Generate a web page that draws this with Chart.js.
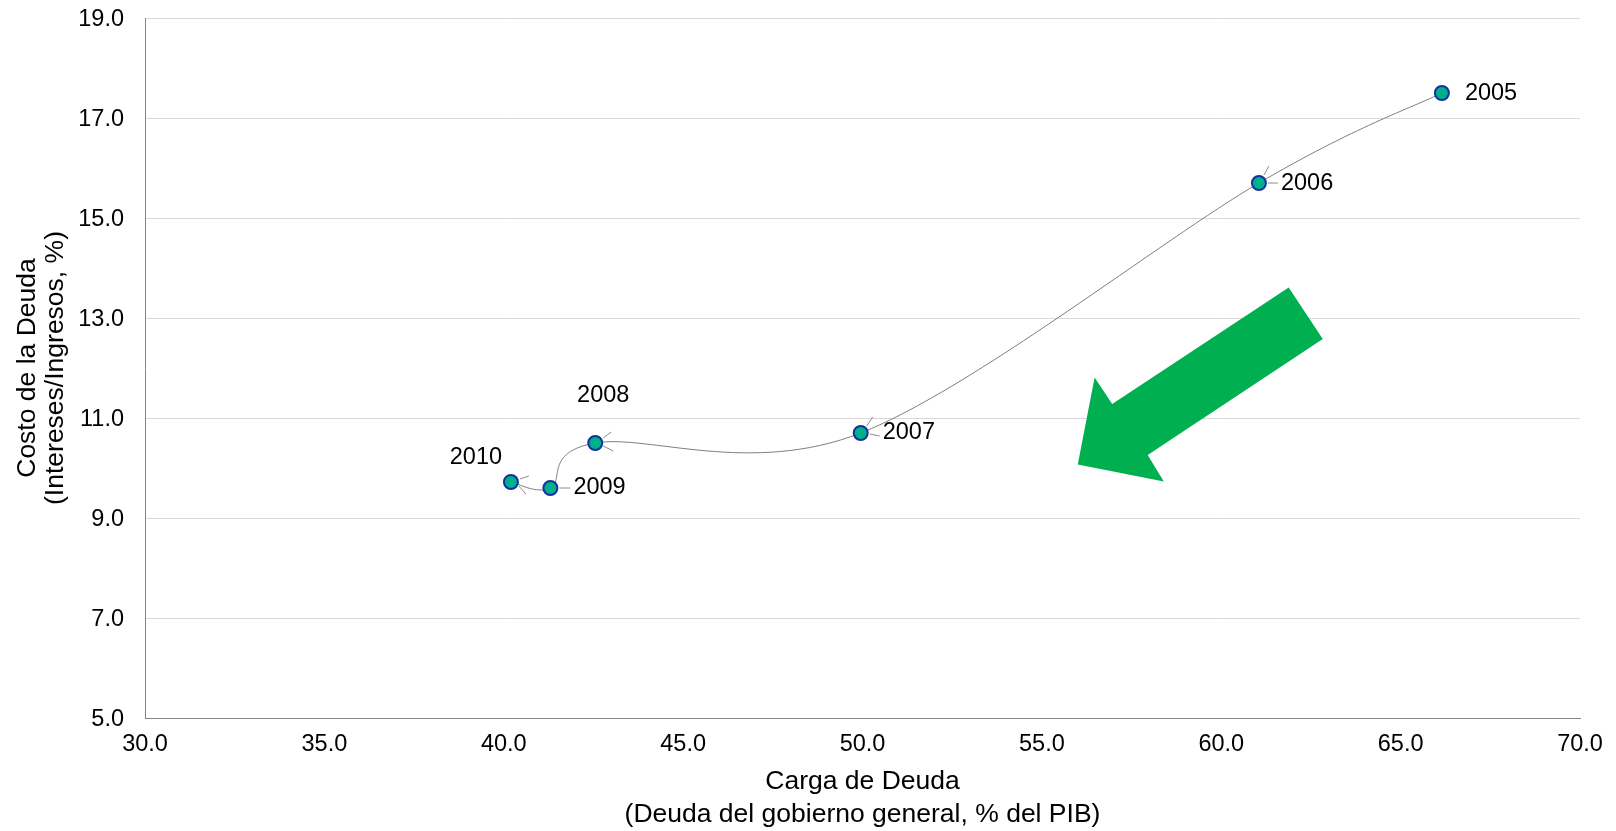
<!DOCTYPE html>
<html lang="es">
<head>
<meta charset="utf-8">
<title>Carga y costo de la deuda</title>
<script src="https://cdn.jsdelivr.net/npm/chart.js@4.4.1/dist/chart.umd.min.js"></script>
<style>
  html, body { margin: 0; padding: 0; background: #ffffff; }
  #wrap { width: 1616px; height: 831px; }
</style>
</head>
<body>
<div id="wrap"><canvas id="debtChart" width="1616" height="831"></canvas></div>
<script>
// años y valores (carga = deuda/PIB, costo = intereses/ingresos)
const years = ["2005", "2006", "2007", "2008", "2009", "2010"];
const debtLoad = [66.15, 61.05, 49.95, 42.55, 41.3, 40.2];
const debtCost = [17.5, 15.7, 10.7, 10.5, 9.6, 9.72];

const xTickValues = [30, 35, 40, 45, 50, 55, 60, 65, 70];
const yTickValues = [5, 7, 9, 11, 13, 15, 17, 19];

const xTitle = ["Carga de Deuda", "(Deuda del gobierno general, % del PIB)"];
const yTitle = ["Costo de la Deuda", "(Intereses/Ingresos, %)"];

// flecha verde (en unidades de los ejes)
const arrowShape = [
  [61.88, 13.61],
  [62.83, 12.58],
  [57.95, 10.26],
  [58.4, 9.73],
  [56.0, 10.07],
  [56.47, 11.81],
  [56.96, 11.28],
];

const FONT = 'Arial, "Liberation Sans", sans-serif';
const GREEN = "#00b050";

// where each year label sits relative to its marker, plus the little leader strokes
const labelLayout = {
  2005: { dx: 23, dy: 1, align: "left", leaders: [] },
  2006: { dx: 22, dy: 1, align: "left", leaders: [[9, 0, 19, 0], [5, -8, 10, -17]] },
  2007: { dx: 22, dy: 0, align: "left", leaders: [[9, 1, 19, 3], [6, -7, 12, -16]] },
  2008: { dx: 8, dy: -47, align: "center", leaders: [[8, -5, 16, -11], [8, 3, 18, 8]] },
  2009: { dx: 23, dy: 0, align: "left", leaders: [[9, 0, 20, 0]] },
  2010: { dx: -35, dy: -24, align: "center", leaders: [[9, -3, 18, -6], [8, 4, 15, 12]] },
};

// spreadsheet-style smoothing: each handle is 1/6 of the neighbour-to-neighbour vector
const smoothLine = {
  id: "smoothLine",
  beforeDatasetsDraw(chart) {
    const meta = chart.getDatasetMeta(0);
    const line = meta.dataset;
    const pts = meta.data;
    if (!line || pts.length < 2) return;
    line.updateControlPoints(chart.chartArea, meta.iScale.axis);
    const n = pts.length;
    for (let i = 0; i < n; i++) {
      const prev = pts[Math.max(i - 1, 0)];
      const next = pts[Math.min(i + 1, n - 1)];
      const cur = pts[i];
      const dx = (next.x - prev.x) / 6;
      const dy = (next.y - prev.y) / 6;
      cur.cp1x = cur.x - dx;
      cur.cp1y = cur.y - dy;
      cur.cp2x = cur.x + dx;
      cur.cp2y = cur.y + dy;
    }
    line._path = undefined;
  },
};

const arrowPlugin = {
  id: "arrowPlugin",
  beforeDatasetsDraw(chart) {
    const { ctx, scales } = chart;
    ctx.save();
    ctx.beginPath();
    arrowShape.forEach(([x, y], i) => {
      const px = scales.x.getPixelForValue(x);
      const py = scales.y.getPixelForValue(y);
      if (i === 0) ctx.moveTo(px, py);
      else ctx.lineTo(px, py);
    });
    ctx.closePath();
    ctx.fillStyle = GREEN;
    ctx.fill();
    ctx.restore();
  },
};

const yearLabels = {
  id: "yearLabels",
  afterDatasetsDraw(chart) {
    const ctx = chart.ctx;
    const meta = chart.getDatasetMeta(0);
    ctx.save();
    meta.data.forEach((pt, i) => {
      const lay = labelLayout[years[i]];
      ctx.strokeStyle = "#8c8c8c";
      ctx.lineWidth = 1;
      lay.leaders.forEach(([x1, y1, x2, y2]) => {
        ctx.beginPath();
        ctx.moveTo(pt.x + x1, pt.y + y1);
        ctx.lineTo(pt.x + x2, pt.y + y2);
        ctx.stroke();
      });
      ctx.fillStyle = "#000000";
      ctx.font = "23.5px " + FONT;
      ctx.textAlign = lay.align;
      ctx.textBaseline = "middle";
      ctx.fillText(years[i], pt.x + lay.dx, pt.y + lay.dy);
    });
    ctx.restore();
  },
};

const ctx = document.getElementById("debtChart").getContext("2d");

new Chart(ctx, {
  type: "scatter",
  data: {
    datasets: [
      {
        label: "Deuda",
        data: debtLoad.map((x, i) => ({ x: x, y: debtCost[i] })),
        showLine: true,
        tension: 0.4,
        borderColor: "#7f7f7f",
        borderWidth: 1,
        pointRadius: 7,
        pointHoverRadius: 7,
        pointBackgroundColor: "#00b08a",
        pointBorderColor: "#1232a0",
        pointBorderWidth: 2,
      },
    ],
  },
  options: {
    responsive: false,
    animation: false,
    devicePixelRatio: 1,
    layout: { padding: { top: 18, right: 36, left: 0, bottom: 0 } },
    plugins: {
      legend: { display: false },
      tooltip: { enabled: false },
    },
    scales: {
      x: {
        type: "linear",
        min: 30,
        max: 70,
        afterBuildTicks: (scale) => {
          scale.ticks = xTickValues.map((v) => ({ value: v }));
        },
        afterFit: (scale) => {
          scale.height = 113;
          scale.paddingLeft = 0;
          scale.paddingRight = 0;
        },
        grid: { display: false, drawTicks: false },
        border: { display: true, color: "#868686", width: 1 },
        ticks: {
          padding: 12,
          color: "#000000",
          font: { family: FONT, size: 23.5 },
          maxRotation: 0,
          callback: (v) => Number(v).toFixed(1),
        },
        title: {
          display: true,
          text: xTitle,
          color: "#000000",
          font: { family: FONT, size: 26.5, lineHeight: "33px" },
          padding: { top: 0, bottom: 0 },
        },
      },
      y: {
        type: "linear",
        min: 5,
        max: 19,
        afterBuildTicks: (scale) => {
          scale.ticks = yTickValues.map((v) => ({ value: v }));
        },
        afterFit: (scale) => {
          scale.width = 145;
          scale.paddingTop = 0;
          scale.paddingBottom = 0;
        },
        grid: { color: "#d9d9d9", lineWidth: 1, drawTicks: false },
        border: { display: true, color: "#868686", width: 1 },
        ticks: {
          padding: 21,
          labelOffset: 2,
          color: "#000000",
          font: { family: FONT, size: 23.5 },
          callback: (v) => Number(v).toFixed(1),
        },
        title: {
          display: true,
          text: yTitle,
          color: "#000000",
          font: { family: FONT, size: 26.5, lineHeight: "28px" },
          padding: { top: 14, bottom: 0 },
        },
      },
    },
  },
  plugins: [smoothLine, arrowPlugin, yearLabels],
});
</script>
</body>
</html>
